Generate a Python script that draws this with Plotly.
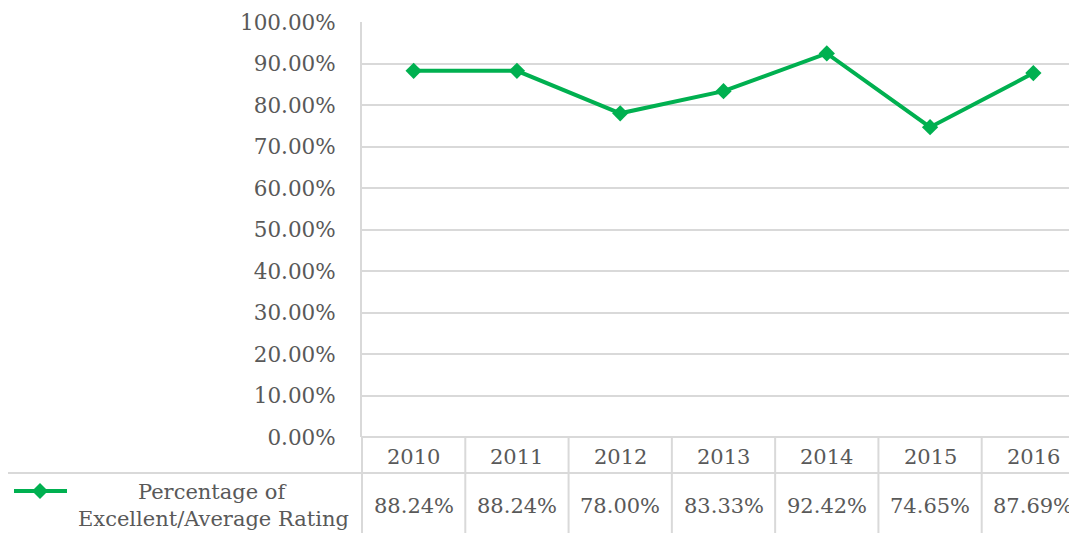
import plotly.graph_objects as go

years = ["2010", "2011", "2012", "2013", "2014", "2015", "2016"]
values = [0.8824, 0.8824, 0.7800, 0.8333, 0.9242, 0.7465, 0.8769]
series_name = ["Percentage of", "Excellent/Average Rating"]
y_ticks = [0, 0.1, 0.2, 0.3, 0.4, 0.5, 0.6, 0.7, 0.8, 0.9, 1.0]

OFF = 8  # page body margin
W, H = 1077, 533
L, R, T, B = 362 - OFF, 0, 22 - OFF, H - (437 - OFF)
GREEN = "#00B050"
GRID = "#D9D9D9"
TXT = "#595959"
FONT = "DejaVu Serif"
FS = 21

x0, x1 = -0.5, 6.5
xs = list(range(len(years)))

fig = go.Figure()
fig.add_trace(go.Scatter(
    x=xs, y=values, mode="lines+markers",
    line=dict(color=GREEN, width=4),
    marker=dict(symbol="diamond", size=12.5, color=GREEN),
    showlegend=False, cliponaxis=False,
))

pw = W - L - R
ph = H - T - B

def xp(xv):
    return (xv - x0) / (x1 - x0)

def yp(Y):
    # screen pixel Y -> paper
    return (H - B - (Y - OFF)) / ph

def xpix(X):
    return (X - OFF - L) / pw

shapes = []
line_style = dict(color=GRID, width=2)
shapes.append(dict(type="line", xref="paper", yref="paper", x0=0, x1=1, y0=yp(437), y1=yp(437), line=line_style))
shapes.append(dict(type="line", xref="paper", yref="paper", x0=xpix(6), x1=1, y0=yp(473), y1=yp(473), line=line_style))
for i in range(len(years)):
    xb = xp(i - 0.5)
    shapes.append(dict(type="line", xref="paper", yref="paper", x0=xb, x1=xb, y0=yp(437), y1=yp(545), line=line_style))
shapes.append(dict(type="line", xref="paper", yref="paper", x0=xpix(6), x1=xpix(6), y0=yp(473), y1=yp(545), line=line_style))
# legend key line
shapes.append(dict(type="line", xref="paper", yref="paper", x0=xpix(14), x1=xpix(67), y0=yp(491), y1=yp(491),
                   line=dict(color=GREEN, width=4)))
# legend key diamond
cx, cy, r = 40, 491, 8
path = (f"M {xpix(cx - r)},{yp(cy)} L {xpix(cx)},{yp(cy - r)} L {xpix(cx + r)},{yp(cy)} "
        f"L {xpix(cx)},{yp(cy + r)} Z")
shapes.append(dict(type="path", xref="paper", yref="paper", path=path,
                   fillcolor=GREEN, line=dict(color=GREEN, width=0)))

annotations = []
for i, (yr, v) in enumerate(zip(years, values)):
    annotations.append(dict(x=i, xref="x", y=yp(457), yref="paper", text=yr, showarrow=False,
                            font=dict(family=FONT, size=FS, color=TXT), xanchor="center", yanchor="middle"))
    annotations.append(dict(x=i, xref="x", y=yp(506), yref="paper", text=f"{v*100:.2f}%", showarrow=False,
                            font=dict(family=FONT, size=FS, color=TXT), xanchor="center", yanchor="middle"))
annotations.append(dict(x=xpix(213), xref="paper", y=yp(492), yref="paper", text=series_name[0], showarrow=False,
                        font=dict(family=FONT, size=FS, color=TXT), xanchor="center", yanchor="middle"))
annotations.append(dict(x=xpix(213), xref="paper", y=yp(519), yref="paper", text=series_name[1], showarrow=False,
                        font=dict(family=FONT, size=FS, color=TXT), xanchor="center", yanchor="middle"))

fig.update_layout(
    width=W, height=H,
    margin=dict(l=L, r=R, t=T, b=B),
    paper_bgcolor="white", plot_bgcolor="white",
    xaxis=dict(range=[x0, x1], showgrid=False, zeroline=False, showticklabels=False, showline=False, fixedrange=True),
    yaxis=dict(range=[0, 1], tickvals=y_ticks, tickformat=".2%", showgrid=True, gridcolor=GRID, gridwidth=2,
               zeroline=False, showline=True, linecolor=GRID, linewidth=2,
               tickfont=dict(family=FONT, size=FS + 0.5, color=TXT), ticklabelstandoff=20, fixedrange=True),
    shapes=shapes, annotations=annotations,
)

fig.write_html("out.html")
